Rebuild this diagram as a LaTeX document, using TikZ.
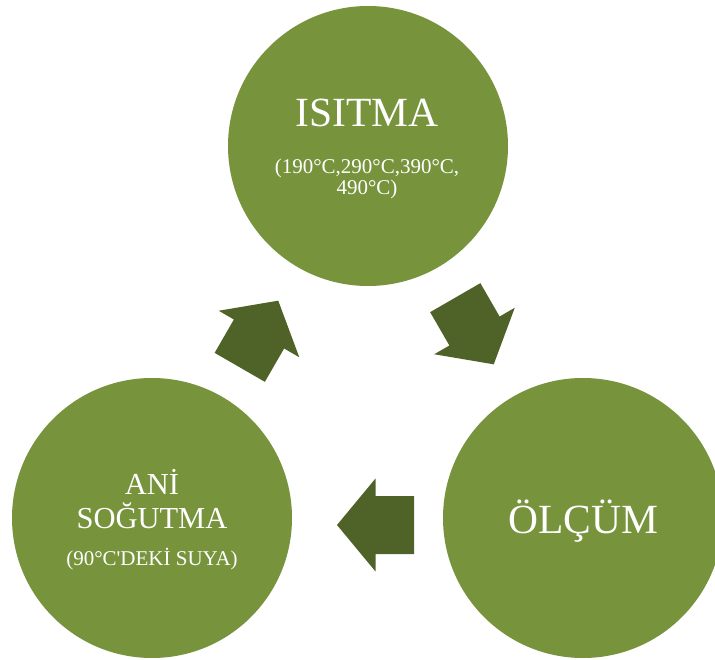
\documentclass[tikz,border=0pt]{standalone}
\usepackage{fontspec}
\setmainfont{Liberation Serif}
\definecolor{circfill}{HTML}{77933C}
\definecolor{arrowfill}{HTML}{4F6228}
\begin{document}
\begin{tikzpicture}[x=1pt,y=-1pt,
  stage/.style={circle, fill=circfill, minimum size=280pt, inner sep=0pt},
  bigtxt/.style={text=white, font=\fontsize{41.5}{44}\selectfont, anchor=base, inner sep=0pt},
  midtxt/.style={text=white, font=\fontsize{30.5}{34}\selectfont, align=center, anchor=base, inner sep=0pt},
  smalltxt/.style={text=white, font=\fontsize{21}{21}\selectfont, align=center, inner sep=0pt},
  blockarrow/.pic={\fill[arrowfill] (-38.5,-29) -- (0,-29) -- (0,-46.5) -- (38.5,0) -- (0,46.5) -- (0,29) -- (-38.5,29) -- cycle;}]
\clip (0,0) rectangle (715,660);
\useasboundingbox (0,0) rectangle (715,660);
\node[stage] (heat) at (368,146) {};
\node[stage] (cool) at (152,518) {};
\node[stage] (meas) at (583,518) {};
\node[bigtxt] (heatT) at (367,127) {ISITMA};
\node[smalltxt, anchor=base] (heatS) at (367,195) {(190°C,290°C,390°C,\\490°C)};
\node[midtxt] (coolT) at (152,528) {ANİ\\SOĞUTMA};
\node[smalltxt, anchor=base] (coolS) at (152,565) {(90°C\textquotesingle DEKİ SUYA)};
\node[bigtxt] (measT) at (583,533) {ÖLÇÜM};
\pic[rotate=60] (arrA) at (259,334) {blockarrow};
\pic[rotate=-60] (arrB) at (474.5,331) {blockarrow};
\pic[rotate=180] (arrC) at (375.5,525) {blockarrow};
\end{tikzpicture}
\end{document}
